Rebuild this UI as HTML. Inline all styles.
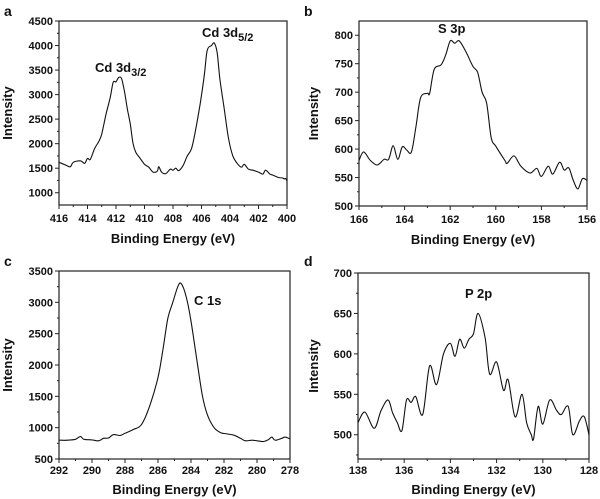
<!DOCTYPE html>
<html><head><meta charset="utf-8">
<style>
body{margin:0;background:#fff;}
svg{display:block;font-family:"Liberation Sans",Arial,sans-serif;}
text{fill:#111;}
.tick{font-size:11px;font-weight:bold;}
.title{font-size:13px;font-weight:bold;}
.lab{font-size:14px;font-weight:bold;}
</style></head>
<body>
<svg id="fig" width="600" height="499" viewBox="0 0 600 499"></svg>
<script>
const aX=[416,415.5,415.2,415,414.5,414.2,414,413.8,413.5,413.2,413,412.7,412.4,412.2,412,411.8,411.6,411.4,411.2,411,410.8,410.6,410.3,410,409.7,409.4,409.1,409,408.8,408.5,408.2,408,407.8,407.6,407.3,407,406.7,406.4,406.1,405.8,405.6,405.3,405.1,404.9,404.7,404.4,404.1,403.8,403.5,403.2,403,402.7,402.4,402,401.7,401.5,401.2,401,400.6,400.3,400.2,400.1,400];
const aY=[1620,1560,1530,1620,1650,1600,1700,1680,1900,2050,2200,2600,2950,3250,3260,3350,3320,3050,2700,2400,2000,1820,1700,1580,1520,1420,1440,1530,1420,1390,1480,1460,1500,1450,1550,1750,1900,2300,2800,3400,3900,4000,4050,3850,3300,2700,2100,1750,1600,1520,1580,1480,1460,1420,1380,1460,1380,1360,1310,1300,1280,1290,1240];
const bX=[166,165.8,165.5,165.2,164.9,164.7,164.5,164.3,164.1,163.9,163.7,163.5,163.3,163,162.9,162.7,162.4,162.2,162,161.8,161.6,161.3,161,160.8,160.6,160.4,160.2,160,159.6,159.5,159.2,158.9,158.5,158.2,158,157.7,157.5,157.2,157,156.8,156.6,156.4,156.2,156];
const bY=[580,595,580,572,582,582,606,582,604,598,595,640,690,698,698,740,748,765,790,786,790,770,745,735,700,680,620,605,580,575,588,570,558,566,552,570,556,577,563,567,545,530,548,545];
const cX=[292,291.5,291,290.7,290.5,290,289.6,289.3,289,288.7,288.3,288,287.5,287,286.5,286,285.7,285.4,285.1,284.8,284.6,284.3,284,283.6,283.3,283,282.6,282.2,281.8,281.4,281,280.7,280.3,280,279.6,279.3,279.1,278.9,278.5,278.3,278];
const cY=[800,800,815,860,815,805,790,830,835,890,875,910,970,1050,1350,1800,2250,2750,3000,3250,3300,3100,2700,2000,1500,1200,1000,920,900,880,830,790,800,790,780,810,850,800,830,850,820];
const dX=[138,137.7,137.3,137,136.7,136.5,136.3,136.1,135.9,135.7,135.5,135.2,134.9,134.6,134.3,134,133.8,133.6,133.4,133.2,133,132.8,132.5,132.3,132,131.7,131.5,131.2,130.9,130.7,130.5,130.4,130.2,130,129.7,129.4,129.2,128.9,128.7,128.4,128.2,128];
const dY=[515,528,508,530,543,527,515,505,543,540,547,525,585,562,600,613,597,618,607,618,625,650,620,575,590,555,568,522,550,515,500,495,535,513,543,530,525,535,500,518,522,500];
const aXT=[416,414,412,410,408,406,404,402,400], aYT=[1000,1500,2000,2500,3000,3500,4000,4500];
const bXT=[166,164,162,160,158,156], bYT=[500,550,600,650,700,750,800];
const cXT=[292,290,288,286,284,282,280,278], cYT=[500,1000,1500,2000,2500,3000,3500];
const dXT=[138,136,134,132,130,128], dYT=[500,550,600,650,700];

const NS="http://www.w3.org/2000/svg", svg=document.getElementById('fig');
function mk(tag,attrs,parent,txt){const e=document.createElementNS(NS,tag);for(const k in attrs)e.setAttribute(k,attrs[k]);if(txt!==undefined)e.textContent=txt;(parent||svg).appendChild(e);return e;}

function smooth(pts){
  let d='M'+pts[0][0].toFixed(1)+' '+pts[0][1].toFixed(1);
  for(let i=0;i<pts.length-1;i++){
    const p0=pts[Math.max(i-1,0)],p1=pts[i],p2=pts[i+1],p3=pts[Math.min(i+2,pts.length-1)];
    const c1=[p1[0]+(p2[0]-p0[0])/6,p1[1]+(p2[1]-p0[1])/6];
    const c2=[p2[0]-(p3[0]-p1[0])/6,p2[1]-(p3[1]-p1[1])/6];
    d+='C'+c1.map(v=>v.toFixed(1)).join(' ')+' '+c2.map(v=>v.toFixed(1)).join(' ')+' '+p2.map(v=>v.toFixed(1)).join(' ');
  }
  return d;
}

function panel(o){
  const g=mk('g',{});
  
  
  const sx=v=>o.L+(o.x0-v)/(o.x0-o.x1)*(o.R-o.L);
  const sy=v=>o.B-(v-o.y0)/(o.y1-o.y0)*(o.B-o.T);
  const box=mk('rect',{x:o.L,y:o.T,width:o.R-o.L,height:o.B-o.T,fill:'none',stroke:'#222','stroke-width':1.2},g);
  
  o.xt.forEach(v=>{const x=sx(v);
    mk('line',{x1:x,x2:x,y1:o.B,y2:o.B+4,stroke:'#222'},g);
    const t=mk('text',{x:x,y:o.B+o.tk,'text-anchor':'middle',class:'tick'},g,String(v));
    
  });
  for(let i=0;i<o.xt.length-1;i++){const x=sx((o.xt[i]+o.xt[i+1])/2);mk('line',{x1:x,x2:x,y1:o.B,y2:o.B+2,stroke:'#222'},g);}
  o.yt.forEach(v=>{const y=sy(v);
    mk('line',{x1:o.L-4,x2:o.L,y1:y,y2:y,stroke:'#222'},g);
    const t=mk('text',{x:o.L-6,y:y+4,'text-anchor':'end',class:'tick'},g,String(v));
    
  });
  const st=o.yt[1]-o.yt[0];
  for(let v=o.yt[0]-st/2;v<o.y1;v+=st){if(v>o.y0){const y=sy(v);mk('line',{x1:o.L-2,x2:o.L,y1:y,y2:y,stroke:'#222'},g);}}
  const pts=o.xs.map((v,i)=>[sx(v),sy(o.ys[i])]);
  const p=mk('path',{d:smooth(pts),fill:'none',stroke:'#111','stroke-width':1.1,'stroke-linejoin':'round'},g);
  
  const xt=mk('text',{x:(o.L+o.R)/2,y:o.B+o.tt,'text-anchor':'middle',class:'title'},g,'Binding Energy (eV)');
  
  const cy=(o.T+o.B)/2;
  const yt=mk('text',{x:o.yx,y:cy,'text-anchor':'middle',class:'title',transform:`rotate(-90 ${o.yx} ${cy})`},g,'Intensity');
  
  const pl=mk('text',{x:o.lx,y:o.ly,class:'lab'},g,o.id);
  
  return g;
}
panel({id:'a',L:59,R:287,T:21,B:205,x0:416,x1:400,y0:750,y1:4500,xs:aX,ys:aY,xt:aXT,yt:aYT,yx:12,lx:4,ly:16,tk:17,tt:38});
panel({id:'b',L:359,R:587,T:21,B:206,x0:166,x1:156,y0:500,y1:825,xs:bX,ys:bY,xt:bXT,yt:bYT,yx:318,lx:304,ly:16,tk:17,tt:38});
panel({id:'c',L:59,R:290,T:271,B:459,x0:292,x1:278,y0:500,y1:3500,xs:cX,ys:cY,xt:cXT,yt:cYT,yx:12,lx:4,ly:266,tk:15,tt:35});
panel({id:'d',L:358,R:589,T:273,B:459,x0:138,x1:128,y0:470,y1:700,xs:dX,ys:dY,xt:dXT,yt:dYT,yx:318,lx:304,ly:266,tk:15,tt:35});

function lbl(x,y,main,sub,name){
  const t=mk('text',{x:x,y:y,class:'title','font-size':'14'});
  
  t.appendChild(document.createTextNode(main));
  if(sub){const s=mk('tspan',{dy:4,'font-size':'11'},t,sub);}
}
lbl(95,72,'Cd 3d','3/2','peak-label-cd-3d32');
lbl(202,37,'Cd 3d','5/2','peak-label-cd-3d52');
lbl(438,33,'S 3p','','peak-label-s-3p');
lbl(194,305,'C 1s','','peak-label-c-1s');
lbl(465,298,'P 2p','','peak-label-p-2p');
</script>
</body></html>
